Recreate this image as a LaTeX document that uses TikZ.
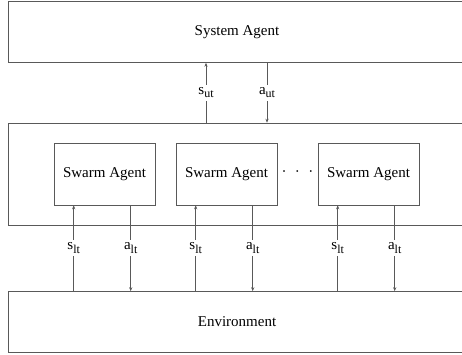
\documentclass[tikz,border=0pt]{standalone}
\usepackage{fontspec}
\setmainfont{Liberation Serif}
\usetikzlibrary{arrows.meta, positioning}

\newcommand{\lowsub}[2]{#1\raisebox{-3.5pt}{\fontsize{12}{13}\selectfont #2}}

\begin{document}
\begin{tikzpicture}[x=1pt, y=-1pt, >={Stealth[length=4pt,width=3.2pt]},
    line width=0.6pt, draw=black!65,
    box/.style={draw=black!65, rectangle, font=\fontsize{15}{17}\selectfont},
    lbl/.style={fill=white, inner sep=2.5pt, font=\fontsize{15}{17}\selectfont}]
  \useasboundingbox (0,0) rectangle (462,354);
  % layers
  \node[box, minimum width=458pt, minimum height=61pt] (sys) at (237,32) {System Agent};
  \node[box, minimum width=458pt, minimum height=102pt] (mid) at (237,174) {};
  \node[box, minimum width=458pt, minimum height=61pt] (env) at (237,322) {Environment};
  % swarm agents
  \node[box, minimum width=101pt, minimum height=62pt] (sa1) at (104.5,174) {Swarm Agent};
  \node[box, minimum width=101pt, minimum height=62pt] (sa2) at (226.5,174) {Swarm Agent};
  \node[box, minimum width=101pt, minimum height=62pt] (sa3) at (368.5,174) {Swarm Agent};
  \node[font=\fontsize{15}{17}\selectfont] (dots) at (297.5,174)
    {\textperiodcentered\hspace{8.5pt}\textperiodcentered\hspace{8.5pt}\textperiodcentered};
  % upper level
  \draw[->] ([xshift=-31pt]mid.north) -- node[lbl]{\lowsub{s}{ut}} ([xshift=-31pt]sys.south);
  \draw[->] ([xshift=30pt]sys.south) -- node[lbl]{\lowsub{a}{ut}} ([xshift=30pt]mid.north);
  % lower level
  \foreach \i in {1,2,3} {
    \draw[->] ([xshift=20pt]sa\i.south west |- env.north) -- node[lbl]{\lowsub{s}{lt}} ([xshift=20pt]sa\i.south west);
    \draw[->] ([xshift=77pt]sa\i.south west) -- node[lbl]{\lowsub{a}{lt}} ([xshift=77pt]sa\i.south west |- env.north);
  }
\end{tikzpicture}
\end{document}
